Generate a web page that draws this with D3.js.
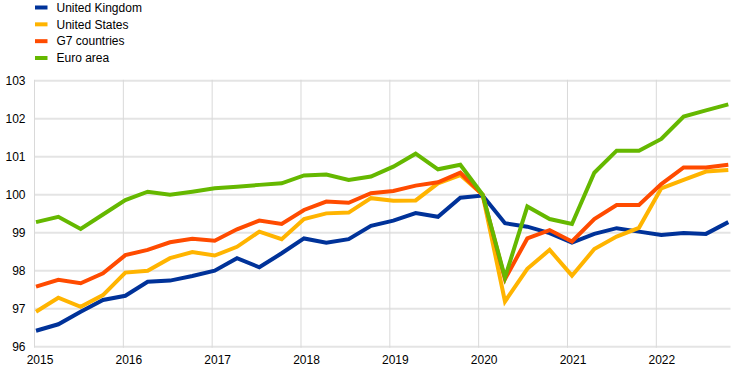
<!DOCTYPE html>
<html>
<head>
<meta charset="utf-8">
<script src="https://cdn.jsdelivr.net/npm/d3@7"></script>
<style>
  html, body { margin: 0; padding: 0; background: #fff; }
  svg { display: block; font-family: Arial, "Liberation Sans", sans-serif; }
</style>
</head>
<body>
<svg id="chart" width="744" height="376"></svg>
<script>
// ---- data (quarterly, 2015 Q1 – 2022 Q4) ----
const quarters = d3.range(32); // index of quarter from 2015 Q1
const years = [2015, 2016, 2017, 2018, 2019, 2020, 2021, 2022];
const yTicks = [96, 97, 98, 99, 100, 101, 102, 103];

const seriesNames = ["United Kingdom", "United States", "G7 countries", "Euro area"];
const seriesColors = ["#003299", "#FFB400", "#FF4B00", "#65B800"];

const unitedKingdom = [96.42, 96.59, 96.92, 97.23, 97.34, 97.71, 97.74, 97.86,
                       98.00, 98.33, 98.09, 98.46, 98.85, 98.74, 98.83, 99.18,
                       99.32, 99.52, 99.42, 99.92, 99.98, 99.25, 99.16, 98.99,
                       98.74, 98.97, 99.12, 99.03, 98.94, 98.99, 98.97, 99.28];
const unitedStates = [96.92, 97.29, 97.05, 97.36, 97.95, 98.00, 98.33, 98.49,
                      98.40, 98.63, 99.03, 98.83, 99.36, 99.51, 99.53, 99.91,
                      99.84, 99.85, 100.30, 100.52, 100.00, 97.19, 98.05, 98.55,
                      97.87, 98.57, 98.90, 99.13, 100.17, 100.39, 100.61, 100.65];
const g7Countries = [97.58, 97.76, 97.67, 97.93, 98.41, 98.55, 98.75, 98.84,
                     98.79, 99.09, 99.32, 99.23, 99.60, 99.82, 99.79, 100.04,
                     100.10, 100.24, 100.33, 100.58, 100.00, 97.78, 98.85, 99.07,
                     98.77, 99.36, 99.73, 99.73, 100.28, 100.72, 100.72, 100.79];
const euroArea = [99.28, 99.42, 99.10, 99.48, 99.86, 100.08, 100.00, 100.08,
                  100.17, 100.21, 100.26, 100.30, 100.51, 100.53, 100.39, 100.48,
                  100.74, 101.08, 100.67, 100.79, 100.00, 97.82, 99.69, 99.36,
                  99.23, 100.58, 101.16, 101.16, 101.47, 102.06, 102.22, 102.38];

const seriesValues = [unitedKingdom, unitedStates, g7Countries, euroArea];

// ---- layout ----
const svg = d3.select("#chart");
const plotLeft = 34.5, plotRight = 730.5, plotTop = 80.8, plotBottom = 346.7;

const x = d3.scaleLinear().domain([0, 31]).range([36, 728.3]);
const xYear = d3.scaleLinear().domain([2015, 2023]).range([plotLeft, plotLeft + 8 * 88.83]);
const y = d3.scaleLinear().domain([96, 103]).range([plotBottom, plotTop]);

// horizontal gridlines
svg.append("g").selectAll("line").data(yTicks).join("line")
  .attr("x1", plotLeft).attr("x2", plotRight)
  .attr("y1", d => y(d)).attr("y2", d => y(d))
  .attr("stroke", "#e4e4e4").attr("stroke-width", 2);

// vertical gridlines
svg.append("g").selectAll("line").data(years).join("line")
  .attr("x1", d => xYear(d)).attr("x2", d => xYear(d))
  .attr("y1", plotTop - 1).attr("y2", plotBottom + 1)
  .attr("stroke", "#d9d9d9").attr("stroke-width", 1);

// y-axis labels
const yAxis = d3.axisLeft(y).tickValues(yTicks).tickSize(0).tickPadding(0).tickFormat(d3.format("d"));
const gy = svg.append("g").attr("transform", `translate(25.5,0)`).call(yAxis);
gy.select(".domain").remove();
gy.selectAll("text").attr("font-size", 12).attr("fill", "#000")
  .attr("font-family", "Arial, 'Liberation Sans', sans-serif");

// x-axis labels
const xAxis = d3.axisBottom(xYear).tickValues(years).tickSize(0).tickPadding(0).tickFormat(d3.format("d"));
const gx = svg.append("g").attr("transform", `translate(5,${plotBottom + 9})`).call(xAxis);
gx.select(".domain").remove();
gx.selectAll("text").attr("font-size", 12).attr("fill", "#000")
  .attr("font-family", "Arial, 'Liberation Sans', sans-serif");

// lines
const line = d3.line().x((d, i) => x(quarters[i])).y(d => y(d));
svg.append("defs").append("clipPath").attr("id", "plotclip")
  .append("rect").attr("x", plotLeft).attr("y", 0).attr("width", plotRight - plotLeft + 10).attr("height", 376);

svg.append("g").attr("clip-path", "url(#plotclip)")
  .selectAll("path").data(seriesValues).join("path")
  .attr("d", d => line(d))
  .attr("fill", "none")
  .attr("stroke", (d, i) => seriesColors[i])
  .attr("stroke-width", 4)
  .attr("stroke-linejoin", "miter")
  .attr("stroke-miterlimit", 4);

// legend
const legend = svg.append("g");
const legendY = d3.scaleLinear().domain([0, 3]).range([7.5, 58]);
seriesNames.forEach((name, i) => {
  const gy0 = legendY(i);
  legend.append("line")
    .attr("x1", 35).attr("x2", 47.5).attr("y1", gy0).attr("y2", gy0)
    .attr("stroke", seriesColors[i]).attr("stroke-width", 4);
  legend.append("text")
    .attr("x", 56.5).attr("y", gy0 + 4.3)
    .attr("font-size", 12).attr("fill", "#000")
    .text(name);
});
</script>
</body>
</html>
